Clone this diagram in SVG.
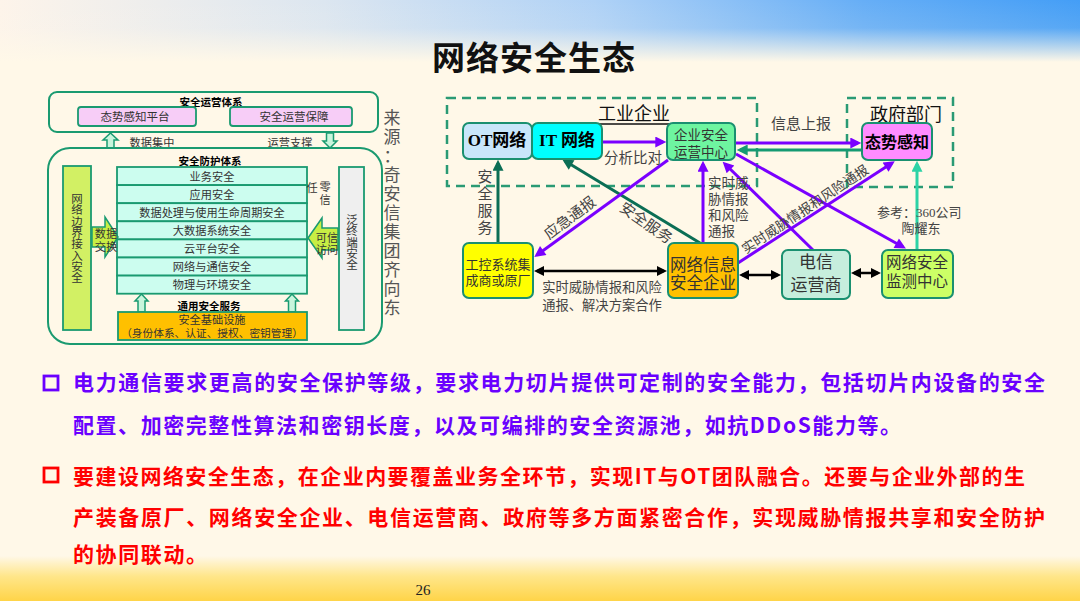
<svg xmlns="http://www.w3.org/2000/svg" width="1080" height="601" viewBox="0 0 1080 601">
<defs>
<linearGradient id="topH" x1="0" y1="0" x2="1" y2="0">
<stop offset="0" stop-color="#FDF4EA"/>
<stop offset="0.3" stop-color="#DCE6F0"/>
<stop offset="0.55" stop-color="#B0D2F6"/>
<stop offset="0.8" stop-color="#66AEF6"/>
<stop offset="1" stop-color="#449EF6"/>
</linearGradient>
<linearGradient id="topFade" x1="0" y1="0" x2="0" y2="1">
<stop offset="0" stop-color="#FFF8E8" stop-opacity="0"/>
<stop offset="0.45" stop-color="#FFF8E8" stop-opacity="0.1"/>
<stop offset="1" stop-color="#FFF8E8" stop-opacity="1"/>
</linearGradient>
<linearGradient id="bot" x1="0" y1="0" x2="0" y2="1">
<stop offset="0" stop-color="#FFF8E8"/>
<stop offset="0.45" stop-color="#FFE68A"/>
<stop offset="1" stop-color="#FFD448"/>
</linearGradient>
<marker id="mP" viewBox="0 0 10 10" refX="7" refY="5" markerWidth="13" markerHeight="11" markerUnits="userSpaceOnUse" orient="auto"><path d="M0,0 L10,5 L0,10 z" fill="#7A00FF"/></marker>
<marker id="mG" viewBox="0 0 10 10" refX="7" refY="5" markerWidth="13" markerHeight="11" markerUnits="userSpaceOnUse" orient="auto"><path d="M0,0 L10,5 L0,10 z" fill="#159A72"/></marker>
<marker id="mD" viewBox="0 0 10 10" refX="7" refY="5" markerWidth="13" markerHeight="11" markerUnits="userSpaceOnUse" orient="auto"><path d="M0,0 L10,5 L0,10 z" fill="#0B6E55"/></marker>
<marker id="mT" viewBox="0 0 10 10" refX="7" refY="5" markerWidth="13" markerHeight="11" markerUnits="userSpaceOnUse" orient="auto"><path d="M0,0 L10,5 L0,10 z" fill="#2CD3A6"/></marker>
<marker id="mK" viewBox="0 0 10 10" refX="7" refY="5" markerWidth="12" markerHeight="10" markerUnits="userSpaceOnUse" orient="auto-start-reverse"><path d="M0,0 L10,5 L0,10 z" fill="#000"/></marker>
</defs>
<style>
.cjk{font-family:"Liberation Serif","Noto Sans CJK SC",serif}
.lt{font-family:"Liberation Serif","Noto Sans CJK SC",serif;font-size:11.2px;fill:#333;text-anchor:middle}
.hdr{font-family:"Noto Sans CJK SC",sans-serif;font-size:10.5px;font-weight:700;fill:#000;text-anchor:middle}
.lframe{fill:none;stroke:#1A9A70;stroke-width:2}
.lbox{stroke:#1A9A70;stroke-width:1.8}
.barrow{fill:#C8F5DC;stroke:#1A9A70;stroke-width:1.5}
.garrow{fill:#C8EE44;stroke:#1A9A70;stroke-width:1.5}
.layer{fill:#CCFDEF;stroke:#1A9A70;stroke-width:1.8}
.dash{fill:none;stroke:#2A9A74;stroke-width:2.5;stroke-dasharray:9 6}
.nd{stroke:#1A9070;stroke-width:2}
.nt{font-family:"Liberation Serif","Noto Sans CJK SC",serif;fill:#333;text-anchor:middle}
.bt{font-family:"Liberation Serif","Noto Sans CJK SC",serif;font-weight:700;fill:#000;text-anchor:middle}
.lab{font-family:"Liberation Serif","Noto Sans CJK SC",serif;fill:#444}
.p{stroke:#7A00FF;stroke-width:3;fill:none;marker-end:url(#mP)}
.bul{font-family:"Noto Sans CJK SC",sans-serif;font-size:21px;font-weight:700}
</style>
<rect x="0" y="0" width="1080" height="601" fill="#FFF8E8"/>
<rect x="0" y="0" width="1080" height="62" fill="url(#topH)"/>
<rect x="0" y="0" width="1080" height="62" fill="url(#topFade)"/>
<rect x="0" y="556" width="1080" height="45" fill="url(#bot)"/>
<g id="title"><text x="534" y="70" font-family="Noto Sans CJK SC, sans-serif" font-size="33" font-weight="700" fill="#111" text-anchor="middle" letter-spacing="1">网络安全生态</text></g>

<g id="left-diagram">
<g id="ops-system">
<rect x="49" y="92" width="329" height="40" rx="8" class="lframe"/>
<text x="211" y="106" class="hdr">安全运营体系</text>
</g>
<g id="situation-platform"><rect x="78" y="107" width="118" height="19" rx="3" class="lbox" fill="#F7CDF7"/><text x="135" y="121" class="lt" style="font-size:11.5px">态势感知平台</text></g>
<g id="ops-guarantee"><rect x="230" y="107" width="122" height="19" rx="3" class="lbox" fill="#F7CDF7"/><text x="294" y="121" class="lt" style="font-size:11.5px">安全运营保障</text></g>
<g id="up-arrow-data"><polygon points="110.5,133 118,140 114,140 114,148 107,148 107,140 103,140" class="barrow"/><text x="152" y="147" class="lt">数据集中</text></g>
<g id="down-arrow-ops"><polygon points="330,148 337,141 333.5,141 333.5,133 326.5,133 326.5,141 323,141" class="barrow"/><text x="290" y="147" class="lt">运营支撑</text></g>
<g id="protect-system">
<rect x="48" y="148" width="334" height="196" rx="22" class="lframe"/>
<text x="210" y="165" class="hdr">安全防护体系</text>
</g>
<g id="boundary-access">
<rect x="63" y="166" width="28" height="164" class="lbox" fill="#D2F064"/>
<text class="lt" style="font-size:11.5px"><tspan x="77" y="203">网</tspan><tspan x="77" y="214.3">络</tspan><tspan x="77" y="225.6">边</tspan><tspan x="77" y="236.9">界</tspan><tspan x="77" y="248.2">接</tspan><tspan x="77" y="259.5">入</tspan><tspan x="77" y="270.8">安</tspan><tspan x="77" y="282.1">全</tspan></text>
</g>
<g id="layers">
<rect x="117" y="167" width="190" height="18.1" class="layer"/><text x="212" y="180.5" class="lt">业务安全</text>
<rect x="117" y="185.1" width="190" height="18.1" class="layer"/><text x="212" y="198.6" class="lt">应用安全</text>
<rect x="117" y="203.2" width="190" height="18.1" class="layer"/><text x="212" y="216.7" class="lt">数据处理与使用生命周期安全</text>
<rect x="117" y="221.3" width="190" height="18.1" class="layer"/><text x="212" y="234.8" class="lt">大数据系统安全</text>
<rect x="117" y="239.4" width="190" height="18.1" class="layer"/><text x="212" y="252.9" class="lt">云平台安全</text>
<rect x="117" y="257.5" width="190" height="18.1" class="layer"/><text x="212" y="271" class="lt">网络与通信安全</text>
<rect x="117" y="275.6" width="190" height="18.1" class="layer"/><text x="212" y="289.1" class="lt">物理与环境安全</text>
</g>
<g id="data-exchange"><polygon points="92,227 105,227 105,217 118,237 105,257 105,247 92,247" class="garrow"/><text x="106" y="238" class="lt">数据</text><text x="106" y="251" class="lt">交换</text></g>
<g id="zero-trust"><text x="312" y="192" class="lt">任</text><text x="325" y="191" class="lt">零</text><text x="325" y="204" class="lt">信</text></g>
<g id="trusted-access"><polygon points="308,238 322,218 322,228 338,228 338,250 322,250 322,258" class="garrow"/><text x="327" y="242" class="lt">可信</text><text x="327" y="254" class="lt">访问</text></g>
<g id="endpoint"><rect x="339" y="167" width="25" height="163" class="lbox" fill="#EFEFEF"/>
<text class="lt" style="font-size:11.5px"><tspan x="352" y="224">泛</tspan><tspan x="352" y="235.3">终</tspan><tspan x="352" y="246.6">端</tspan><tspan x="352" y="257.9">安</tspan><tspan x="352" y="269.2">全</tspan></text></g>
<g id="up-arrows"><polygon points="141.5,294 148,301 145,301 145,312 138,312 138,301 135,301" class="barrow"/><polygon points="292,294 298.5,301 295.5,301 295.5,312 288.5,312 288.5,301 285.5,301" class="barrow"/></g>
<g id="common-service"><text x="209" y="310" class="hdr">通用安全服务</text>
<rect x="118" y="312" width="189" height="28" class="lbox" fill="#FFC000"/>
<text x="212" y="324" class="lt">安全基础设施</text><text x="212" y="337" class="lt" style="font-size:10.7px">（身份体系、认证、授权、密钥管理）</text></g>
<g id="source"><text class="lt" style="font-size:17px;fill:#555"><tspan x="392" y="124">来</tspan><tspan x="392" y="143">源</tspan><tspan x="392" y="162">：</tspan><tspan x="392" y="181">奇</tspan><tspan x="392" y="200">安</tspan><tspan x="392" y="219">信</tspan><tspan x="392" y="238">集</tspan><tspan x="392" y="257">团</tspan><tspan x="392" y="276">齐</tspan><tspan x="392" y="295">向</tspan><tspan x="392" y="314">东</tspan></text></g>
</g>

<g id="right-diagram">
<g id="industrial-enterprise"><rect x="447" y="98" width="310" height="88" class="dash"/><text x="634" y="120" class="cjk" font-size="18" fill="#111" text-anchor="middle">工业企业</text><line x1="599" y1="124" x2="670" y2="124" stroke="#111" stroke-width="1.3"/></g>
<g id="government"><rect x="847" y="98" width="106" height="89" class="dash"/><text x="906" y="121" class="cjk" font-size="18" fill="#111" text-anchor="middle">政府部门</text></g>

<g id="connectors">
<line x1="602" y1="142" x2="663" y2="142" class="p"/>
<line x1="735" y1="143" x2="858" y2="143" class="p"/>
<line x1="862" y1="150" x2="740" y2="150" stroke="#159A72" stroke-width="3" marker-end="url(#mG)"/>
<line x1="498" y1="243" x2="498" y2="163" stroke="#0B6E55" stroke-width="3" marker-end="url(#mD)"/>
<line x1="700" y1="243" x2="565" y2="161" stroke="#0B6E55" stroke-width="3" marker-end="url(#mD)"/>
<line x1="668" y1="160" x2="537" y2="255" class="p"/>
<line x1="703" y1="243" x2="703" y2="164" class="p"/>
<line x1="813" y1="250" x2="725" y2="164" class="p"/>
<line x1="736" y1="154" x2="903" y2="247" class="p"/>
<line x1="738" y1="263" x2="892" y2="163" class="p"/>
<line x1="917" y1="250" x2="917" y2="164" stroke="#2CD3A6" stroke-width="3" marker-end="url(#mT)"/>
<line x1="537" y1="271" x2="664" y2="271" stroke="#000" stroke-width="2.5" marker-start="url(#mK)" marker-end="url(#mK)"/>
<line x1="742" y1="275" x2="778" y2="275" stroke="#000" stroke-width="2.5" marker-start="url(#mK)" marker-end="url(#mK)"/>
<line x1="854" y1="273" x2="878" y2="273" stroke="#000" stroke-width="2.5" marker-start="url(#mK)" marker-end="url(#mK)"/>
</g>

<g id="ot-network"><rect x="463" y="123" width="69" height="36" rx="6" class="nd" fill="#C8E6FA"/><text x="497" y="146" class="bt" font-size="17">OT网络</text></g>
<g id="it-network"><rect x="532" y="123" width="70" height="36" rx="6" class="nd" fill="#00FFFF"/><text x="567" y="146" class="bt" font-size="17">IT 网络</text></g>
<g id="soc"><rect x="667" y="123" width="68" height="37" rx="6" class="nd" fill="#6EF5A0"/><text x="701" y="140" class="nt" font-size="13.5">企业安全</text><text x="701" y="157" class="nt" font-size="13.5">运营中心</text></g>
<g id="situation"><rect x="862" y="123" width="70" height="37" rx="6" class="nd" fill="#FF8CFF"/><text x="897" y="148" class="bt" font-size="16">态势感知</text></g>
<g id="ics-vendor"><rect x="463" y="243" width="70" height="55" rx="6" class="nd" fill="#FFFF00"/><text x="498" y="269" class="nt" font-size="13">工控系统集</text><text x="498" y="285" class="nt" font-size="13">成商或原厂</text></g>
<g id="security-vendor"><rect x="668" y="243" width="70" height="55" rx="6" class="nd" fill="#FFC000"/><text x="703" y="271" class="nt" font-size="16.5">网络信息</text><text x="703" y="289" class="nt" font-size="16.5">安全企业</text></g>
<g id="telecom"><rect x="782" y="250" width="68" height="49" rx="6" class="nd" fill="#C6EEDD"/><text x="816" y="268" class="nt" font-size="17">电信</text><text x="816" y="291" class="nt" font-size="17">运营商</text></g>
<g id="monitor-center"><rect x="882" y="250" width="71" height="48" rx="6" class="nd" fill="#CCFF66"/><text x="917" y="268" class="nt" font-size="15.5">网络安全</text><text x="917" y="287" class="nt" font-size="15.5">监测中心</text></g>

<g id="labels">
<text x="633" y="163" class="lab" font-size="14.5" text-anchor="middle">分析比对</text>
<text x="801" y="129" class="lab" font-size="15" text-anchor="middle">信息上报</text>
<text class="lab" font-size="15" text-anchor="middle"><tspan x="485" y="182">安</tspan><tspan x="485" y="199">全</tspan><tspan x="485" y="216">服</tspan><tspan x="485" y="233">务</tspan></text>
<text x="570" y="223" class="lab" font-size="15" text-anchor="middle" transform="rotate(-37 570 218)">应急通报</text>
<text x="646" y="228" class="lab" font-size="15" text-anchor="middle" transform="rotate(35 646 223)">安全服务</text>
<text class="lab" font-size="13.5"><tspan x="708" y="188">实时威</tspan><tspan x="708" y="204">胁情报</tspan><tspan x="708" y="220">和风险</tspan><tspan x="708" y="236">通报</tspan></text>
<text x="805" y="214" class="lab" font-size="13.5" text-anchor="middle" transform="rotate(-33.5 805 209)">实时威胁情报和风险通报</text>
<text x="877" y="217" class="lab" font-size="13">参考：360公司</text>
<text x="921" y="233" class="lab" font-size="13" text-anchor="middle">陶耀东</text>
<text x="602" y="292" class="lab" font-size="13.3" text-anchor="middle">实时威胁情报和风险</text>
<text x="602" y="310" class="lab" font-size="13.3" text-anchor="middle">通报、解决方案合作</text>
</g>
</g>

<g id="bullet-1" fill="#6A00FF">
<rect x="44" y="376" width="14" height="14" fill="none" stroke="#6A00FF" stroke-width="2.8"/>
<text x="73" y="390" class="bul" textLength="972" lengthAdjust="spacing">电力通信要求更高的安全保护等级，要求电力切片提供可定制的安全能力，包括切片内设备的安全</text>
<text x="73" y="433" class="bul" textLength="828" lengthAdjust="spacing">配置、加密完整性算法和密钥长度，以及可编排的安全资源池，如抗DDoS能力等。</text>
</g>
<g id="bullet-2" fill="#FF0000">
<rect x="44" y="468" width="14" height="14" fill="none" stroke="#FF0000" stroke-width="2.8"/>
<text x="73" y="484" class="bul" textLength="952" lengthAdjust="spacing">要建设网络安全生态，在企业内要覆盖业务全环节，实现IT与OT团队融合。还要与企业外部的生</text>
<text x="73" y="525" class="bul" textLength="972" lengthAdjust="spacing">产装备原厂、网络安全企业、电信运营商、政府等多方面紧密合作，实现威胁情报共享和安全防护</text>
<text x="73" y="562" class="bul" letter-spacing="1.6">的协同联动。</text>
</g>
<g id="page-number"><text x="423" y="595" font-family="Liberation Serif, serif" font-size="15" fill="#222" text-anchor="middle">26</text></g>
</svg>
